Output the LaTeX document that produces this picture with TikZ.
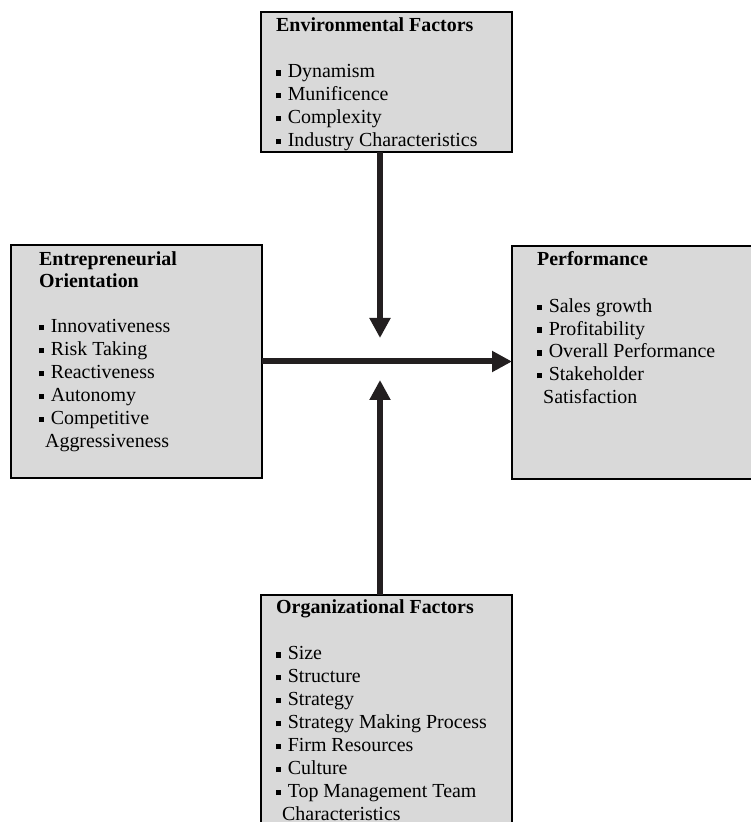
\documentclass[tikz,border=0pt]{standalone}
\usepackage{fontspec}
\setmainfont{Liberation Serif}
\usepackage{xcolor}
\usetikzlibrary{arrows.meta,positioning,calc}
\definecolor{boxgray}{HTML}{D9D9D9}
\definecolor{arrowblack}{HTML}{231F20}
\newcommand{\itm}{\rule[0.12em]{0.24em}{0.26em}\hspace{0.34em}}
\newcommand{\cont}{\hspace{0.3em}}

\begin{document}
\begin{tikzpicture}[x=1bp, y=1bp, font=\fontsize{20}{23}\selectfont,
  box/.style={draw=black, line width=2bp, fill=boxgray, minimum width=251bp, inner sep=0pt, outer sep=0pt, anchor=north west},
  txt/.style={anchor=north west, inner sep=0pt, align=left},
  link/.style={draw=arrowblack, line width=6bp, -{Triangle[width=20bp,length=20bp]}}]
  \useasboundingbox (0,0) rectangle (751,822);
  \clip (0,0) rectangle (751,822);
  % the four boxes
  \foreach \name/\x/\y/\h in {env/261/810/140, eo/11/577/233, perf/512/576/233, org/261/227/250} {
    \node[box, minimum height=\h bp] (\name) at (\x,\y) {};
  }
  \node[txt] (envtxt) at (276,805) {\textbf{Environmental Factors}\\[24bp]
    \itm Dynamism\\ \itm Munificence\\ \itm Complexity\\ \itm Industry Characteristics};
  \node[txt] (eotxt) at (39,571) {\textbf{Entrepreneurial}\\ \textbf{Orientation}\\[22bp]
    \itm Innovativeness\\ \itm Risk Taking\\ \itm Reactiveness\\ \itm Autonomy\\
    \itm Competitive\\ \cont Aggressiveness};
  \node[txt] (perftxt) at (537,571) {\textbf{Performance}\\[24bp]
    \itm Sales growth\\ \itm Profitability\\ \itm Overall Performance\\
    \itm Stakeholder\\ \cont Satisfaction};
  \node[txt] (orgtxt) at (276,223) {\textbf{Organizational Factors}\\[24bp]
    \itm Size\\ \itm Structure\\ \itm Strategy\\ \itm Strategy Making Process\\
    \itm Firm Resources\\ \itm Culture\\ \itm Top Management Team\\ \cont Characteristics};
  % arrows
  \coordinate (hub) at (380,461);
  \draw[link] (env.south -| hub) -- ($(hub)+(0,23)$);
  \draw[link] (org.north -| hub) -- ($(hub)+(0,-19)$);
  \draw[link] (eo.east) -- (eo.east -| perf.west);
\end{tikzpicture}
\end{document}
